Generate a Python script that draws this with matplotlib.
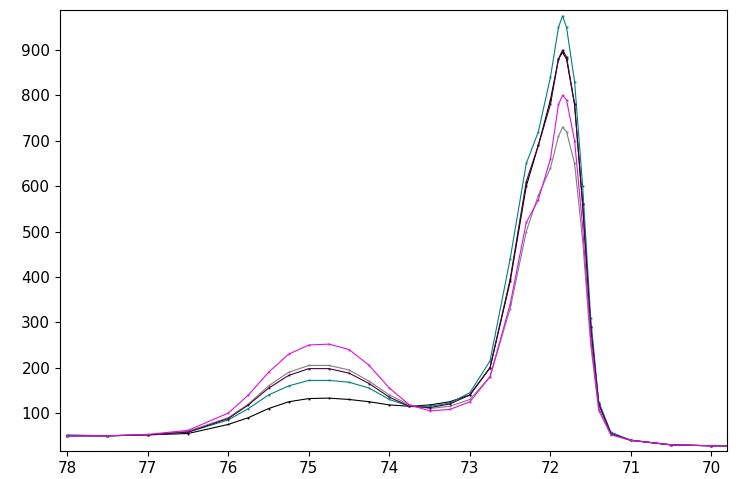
import matplotlib
matplotlib.use("Agg")
import matplotlib.pyplot as plt

temps = [78, 77.5, 77, 76.5, 76, 75.75, 75.5, 75.25, 75, 74.75, 74.5, 74.25, 74, 73.75, 73.5, 73.25,
         73, 72.75, 72.5, 72.3, 72.15, 72.0, 71.9, 71.85, 71.8, 71.7, 71.6, 71.5, 71.4, 71.25, 71, 70.5, 70, 69.8]
black   = [50,50,52,55,75,90,110,125,132,133,130,125,118,115,118,125,140,200,390,600,690,790,880,895,880,780,560,290,120,55,40,30,28,28]
teal    = [52,50,52,58,85,110,140,160,172,172,168,155,130,115,115,122,145,215,440,650,720,840,950,975,950,830,600,310,125,58,40,30,28,28]
gray    = [50,50,52,60,90,120,160,190,205,205,195,170,140,118,110,115,130,180,330,500,580,640,710,730,720,650,480,250,105,52,40,30,28,28]
purple  = [50,50,52,58,88,118,155,183,198,198,188,165,135,115,112,120,140,200,395,610,690,780,880,900,885,780,560,290,120,55,40,30,28,28]
magenta = [50,50,53,62,100,140,190,230,250,252,240,205,155,118,105,108,125,180,340,520,570,660,780,800,790,700,510,265,110,53,40,30,28,28]

series = [(black, "black"), (teal, "#008080"), (gray, "#808080"), (purple, "#4a0040"), (magenta, "#e010e0")]

fig = plt.figure(figsize=(7.36, 4.79), dpi=100)
ax = fig.add_axes([0.0815, 0.058, 0.906, 0.921])
for ys, c in series:
    ax.plot(temps, ys, color=c, lw=0.8)
    ax.plot(temps, ys, ls="none", marker="s", ms=1.3, mew=0, color=c)
ax.set_xlim(78.09, 69.81)
ax.set_ylim(16, 988)
ax.set_xticks(range(70, 79))
ax.set_yticks(range(100, 1000, 100))
ax.tick_params(labelsize=11, direction="out")
fig.savefig("out.png")
